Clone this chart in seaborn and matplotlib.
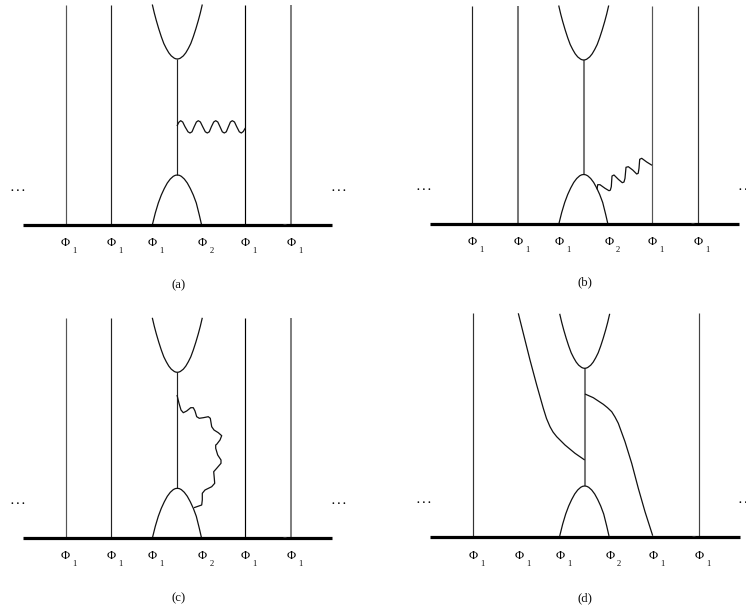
import matplotlib
matplotlib.use("Agg")
import matplotlib.pyplot as plt
import seaborn as sns

sns.set_theme(style="white")
plt.rcParams["font.family"] = ["Liberation Serif", "DejaVu Sans"]

# ---------- values (pixel positions of the diagram) ----------
PANELS = ["(a)", "(b)", "(c)", "(d)"]
LABEL_X = [178.3, 585.3, 178.3, 585.3]
LABEL_Y = [285.0, 282.7, 598.3, 598.3]

BASE_X0 = [22.7, 429.7, 22.7, 429.7]
BASE_X1 = [331.7, 738.7, 331.7, 740.0]
BASE_Y = [225.0, 224.0, 538.0, 537.0]
TOP_Y = [4.5, 6.0, 317.7, 313.0]
NOTCH_X = [283.0, 691.0, 283.0, 692.0]

VERT_A = [65.7, 111.0, 245.3, 291.0]
VERT_B = [472.3, 518.0, 652.0, 697.7]
VERT_C = [65.7, 111.0, 245.3, 291.0]
VERT_D = [472.7, 699.0]
VERT_SHADE_A = ["#555555", "#222222", "#000000", "#808080"]
VERT_SHADE_B = ["#222222", "#777777", "#555555", "#333333"]
VERT_SHADE_C = ["#555555", "#222222", "#000000", "#808080"]
VERT_SHADE_D = ["#333333", "#444444"]

CENTER_X = [177.3, 583.7, 177.3, 584.7]
UPPER_VERTEX_Y = [59.0, 60.0, 372.3, 368.3]
LOWER_VERTEX_Y = [175.0, 174.5, 488.3, 486.0]
CENTER_SHADE = ["#222222", "#777777", "#222222", "#777777"]

# parabola outlines relative to the vertex
UPPER_DX = [-25, -23, -21, -18.5, -16, -13.5, -11, -8.5, -6, -3, -1.5, 0,
            1.5, 3, 6, 8.5, 11, 13.5, 16, 18.5, 21, 23, 25]
UPPER_DY = [-54.5, -46, -38.5, -30, -22.3, -15.5, -10.5, -6.2, -3.1, -0.8, -0.2, 0,
            -0.2, -0.8, -3.1, -6.2, -10.5, -15.5, -22.3, -30, -38.5, -46, -54.5]
LOWER_DX = [-25, -22, -19, -16, -13, -10, -7, -4, -2, 0,
            2, 4, 7, 10, 13, 16, 19, 22, 24.3]
LOWER_DY = [50, 38, 28, 20, 13.5, 8, 4, 1.3, 0.3, 0,
            0.3, 1.3, 4, 8, 13.5, 20, 28, 40, 50]

SYMBOL_X_A = [65.0, 110.7, 152.3, 202.3, 245.3, 290.7]
SYMBOL_X_B = [472.3, 518.0, 559.0, 608.7, 652.0, 697.7]
SYMBOL_X_C = [65.0, 110.7, 152.3, 202.3, 245.3, 290.7]
SYMBOL_X_D = [472.7, 518.7, 559.7, 609.7, 652.7, 699.0]
SYMBOL_Y = [242.7, 242.0, 555.7, 555.7]
SUBSCRIPTS = ["1", "1", "1", "2", "1", "1"]

DOTS_LEFT_X = [17.5, 424.0, 17.5, 424.0]
DOTS_RIGHT_X = [338.5, 745.5, 338.5, 746.0]
DOTS_Y = [189.7, 189.3, 502.3, 501.7]

WAVE_A_X = [177, 178.8, 180.7, 182.7, 185, 188, 190, 192, 194.2, 196.4, 198.3, 200.4,
            202.7, 205.3, 207.3, 209.3, 211.4, 213.7, 215.7, 217.8, 220, 222.3, 224.3,
            226.3, 228.4, 230.4, 232.3, 234.5, 236.7, 239.3, 241.3, 243.3, 245.3]
WAVE_A_Y = [126, 122.3, 120.7, 122, 126.7, 131.8, 133, 131.8, 126.7, 122, 120.7, 122,
            126.7, 131.8, 133, 131.8, 126.7, 122, 120.7, 122, 126.7, 131.8, 133,
            131.8, 126.7, 122, 120.7, 122, 126.7, 131.8, 133, 131.5, 128]

WAVE_B_X = [597, 597.7, 600, 605, 609, 610.3, 611.3, 612, 614, 618.3, 622.3, 624,
            625, 626, 628.3, 632.7, 636.7, 638.2, 639, 639.7, 641.7, 646.7, 652]
WAVE_B_Y = [189.3, 184.7, 184.7, 188.3, 190.7, 190.2, 186.7, 176, 175, 179.3, 182.7, 182,
            178.3, 167.3, 166.7, 170, 174, 173.3, 168.3, 159.3, 158.3, 162, 165.3]

WAVE_C_X = [177, 179, 181, 183.3, 186.7, 190.7, 193.3, 195, 196.7, 199.3, 203.3, 208.3,
            210.3, 211.7, 214, 218.3, 221.7, 220, 216.7, 215.7, 215.7, 217.7, 221, 221,
            216.7, 213.7, 214.3, 214.7, 211.7, 205, 202.3, 202.3, 201.7, 194]
WAVE_C_Y = [395, 403.3, 410, 412.7, 411, 407.7, 407.7, 411, 416.7, 418.3, 417.7, 416.7,
            418.3, 426.7, 430, 432.7, 435.7, 440, 444.3, 445, 448.3, 455, 460, 463.3,
            468.3, 471.7, 478.3, 483.3, 486.7, 490, 493.3, 500, 505, 507.7]

CURVE_D_LEFT_X = [518.3, 523.3, 530, 536.7, 543.3, 546.5, 550, 553, 556.7, 565, 575, 584.7]
CURVE_D_LEFT_Y = [313.3, 333.3, 360, 385, 408.3, 418.5, 426.7, 432, 436.7, 445, 453.3, 460]
CURVE_D_RIGHT_X = [585, 593.3, 603.3, 607.5, 611.7, 615, 618.3, 625, 631.7, 638.3, 645, 652.7]
CURVE_D_RIGHT_Y = [394, 397.7, 404.3, 407.7, 411.7, 417, 423.3, 441.7, 463.3, 488.3, 511.7, 535.7]

# ---------- drawing ----------
fig = plt.figure(figsize=(7.46, 6.10), dpi=100, facecolor="white")
ax = fig.add_axes([0, 0, 1, 1])


def stroke(xs, ys, color="#111111", width=0.85):
    sns.lineplot(x=list(xs), y=list(ys), sort=False, estimator=None, errorbar=None,
                 color=color, linewidth=width, solid_capstyle="butt", legend=False, ax=ax)


verticals = [VERT_A, VERT_B, VERT_C, VERT_D]
shades = [VERT_SHADE_A, VERT_SHADE_B, VERT_SHADE_C, VERT_SHADE_D]
symbols = [SYMBOL_X_A, SYMBOL_X_B, SYMBOL_X_C, SYMBOL_X_D]

for i, name in enumerate(PANELS):
    for x, shade in zip(verticals[i], shades[i]):
        wide = shade in ("#808080", "#777777")
        stroke([x, x], [TOP_Y[i], BASE_Y[i]], color=shade, width=1.45 if wide else 0.85)

    cx = CENTER_X[i]
    wide = CENTER_SHADE[i] == "#777777"
    stroke([cx, cx], [UPPER_VERTEX_Y[i], LOWER_VERTEX_Y[i]], color=CENTER_SHADE[i],
           width=1.45 if wide else 0.85)
    stroke([cx + d for d in UPPER_DX], [UPPER_VERTEX_Y[i] + d for d in UPPER_DY], width=0.9)
    stroke([cx + d for d in LOWER_DX], [LOWER_VERTEX_Y[i] + d for d in LOWER_DY], width=0.9)

    stroke([BASE_X0[i], BASE_X1[i]], [BASE_Y[i], BASE_Y[i]], color="#000000", width=2.3)
    stroke([NOTCH_X[i], NOTCH_X[i] + 3], [BASE_Y[i] - 1.5, BASE_Y[i] - 1.5], color="#333333", width=0.7)

    for x, sub in zip(symbols[i], SUBSCRIPTS):
        ax.text(x, SYMBOL_Y[i], "Φ", fontsize=9, ha="center", va="center", color="#000000")
        ax.text(x + 9.3, SYMBOL_Y[i] + 8, sub, fontsize=6.2, ha="center", va="center", color="#111111")

    ax.text(LABEL_X[i], LABEL_Y[i], name, fontsize=9.2, ha="center", va="center", color="#111111")
    for x in (DOTS_LEFT_X[i], DOTS_RIGHT_X[i]):
        ax.text(x, DOTS_Y[i] + 1.2, ". . .", fontsize=8, fontweight="bold", ha="center",
                va="baseline", color="#000000")

stroke(WAVE_A_X, WAVE_A_Y, width=0.9)
stroke(WAVE_B_X, WAVE_B_Y, width=0.9)
stroke(WAVE_C_X, WAVE_C_Y, width=0.9)
stroke(CURVE_D_LEFT_X, CURVE_D_LEFT_Y, width=0.9)
stroke(CURVE_D_RIGHT_X, CURVE_D_RIGHT_Y, width=0.9)

ax.set_xlim(0, 746)
ax.set_ylim(610, 0)
ax.axis("off")
fig.savefig("out.png", dpi=100, facecolor="white")
